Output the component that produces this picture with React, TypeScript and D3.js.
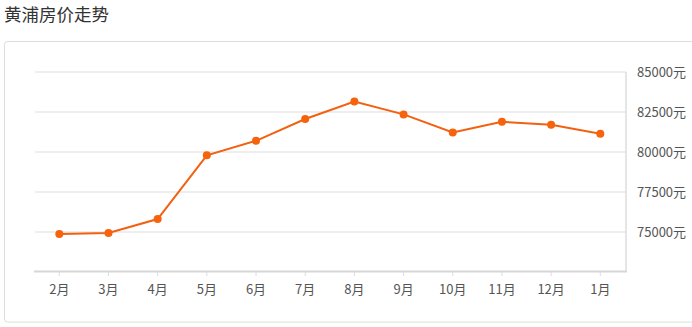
import React from "react";
import * as d3 from "d3";

const months = ["2月", "3月", "4月", "5月", "6月", "7月", "8月", "9月", "10月", "11月", "12月", "1月"];
const prices = [74870, 74940, 75810, 79790, 80700, 82060, 83160, 82350, 81220, 81890, 81700, 81140];
const yTicks = [75000, 77500, 80000, 82500, 85000];
const title = "黄浦房价走势";

const W = 692;
const H = 327;
const FONT = "'Noto Sans CJK SC', 'Noto Sans', sans-serif";

export default function App() {
  const x = d3.scaleBand<string>().domain(months).range([34.7, 624.9]);
  const y = d3.scaleLinear().domain([72500, 85000]).range([272, 72]);
  const cx = (m: string) => (x(m) as number) + x.bandwidth() / 2;
  const line = d3
    .line<number>()
    .x((_, i) => cx(months[i]))
    .y((d) => y(d));

  return (
    <svg
      width={W}
      height={H}
      style={{ position: "absolute", left: 0, top: 0, fontFamily: FONT }}
    >
      <text x={4} y={13} fontSize={17.5} fill="#333" dominantBaseline="central">
        {title}
      </text>
      <rect x={4.5} y={41.5} width={700} height={280.5} rx={3} fill="#fff" stroke="#ddd" />
      {yTicks.map((t) => (
        <g key={t}>
          <line x1={35} x2={626} y1={y(t)} y2={y(t)} stroke="#ddd" strokeWidth={1} />
          <text x={637} y={y(t) - 1} fontSize={13} fill="#555" dominantBaseline="central">
            {t}元
          </text>
        </g>
      ))}
      <line x1={626} x2={626} y1={y(85000)} y2={272} stroke="#ddd" strokeWidth={1.5} />
      <line x1={34} x2={627} y1={271.5} y2={271.5} stroke="#d6d6d6" strokeWidth={2} />
      {months.map((m) => (
        <g key={m}>
          <line x1={cx(m)} x2={cx(m)} y1={272} y2={276} stroke="#ddd" strokeWidth={1} />
          <text x={cx(m)} y={288} fontSize={13} fill="#555" textAnchor="middle" dominantBaseline="central">
            {m}
          </text>
        </g>
      ))}
      <path d={line(prices) || ""} fill="none" stroke="#f26010" strokeWidth={2} />
      {prices.map((p, i) => (
        <circle key={i} cx={cx(months[i])} cy={y(p)} r={4} fill="#f7630c" />
      ))}
    </svg>
  );
}
